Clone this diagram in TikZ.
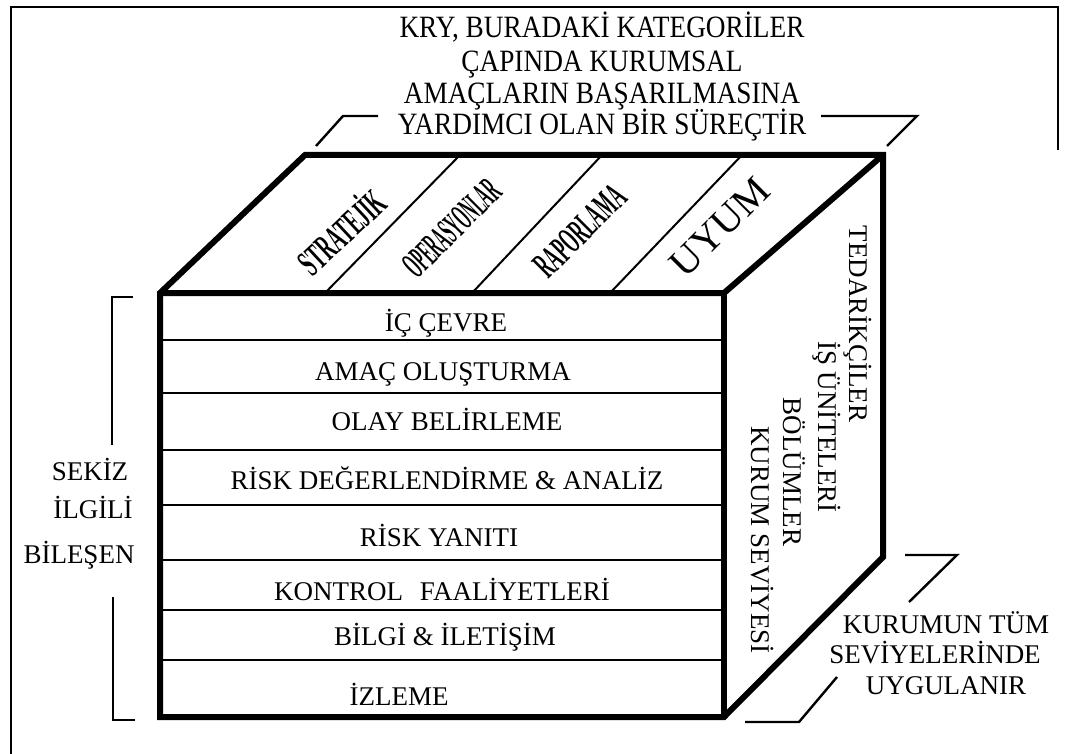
\documentclass[tikz,border=0pt]{standalone}
\usepackage{graphicx}
\usepackage{fontspec}
\setmainfont{Liberation Serif}
\begin{document}
\begin{tikzpicture}[x=1pt,y=-1pt,
  cubeline/.style={line width=6pt,line join=miter},
  divider/.style={line width=2pt},
  rowline/.style={line width=2.2pt},
  bracket/.style={line width=2.4pt},
  frameline/.style={line width=2pt},
  caption/.style={font=\fontsize{27}{30}\selectfont,inner sep=0pt,anchor=base},
  headline/.style={font=\fontsize{31}{34}\selectfont,inner sep=0pt,anchor=base},
  sidetext/.style={font=\fontsize{27}{30}\selectfont,inner sep=0pt,anchor=base,rotate=-90},
  toplabel/.style={inner sep=0pt,rotate=45,font=\bfseries\fontsize{38}{38}\selectfont}]
\useasboundingbox (0,0) rectangle (1067,754);
\fill[white] (0,0) rectangle (1067,754);

% page frame
\draw[frameline] (11,754) -- (11,7) -- (1058,7) -- (1058,150);

% cube corners
\coordinate (FTL) at (160,293);
\coordinate (FTR) at (724,293);
\coordinate (FBL) at (160,717);
\coordinate (FBR) at (724,717);
\coordinate (BTL) at (305,155);
\coordinate (BTR) at (883,155);
\coordinate (BBR) at (883,557);

% rows of the front face
\foreach \yy in {340,393,450,505,560,610,660}
  \draw[rowline] (160,\yy) -- (724,\yy);

% objective columns on the top face
\draw[divider] (460,155) -- (325,293);
\draw[divider] (602,155) -- (472,293);
\draw[divider] (742,155) -- (610,293);

% cube outline
\draw[cubeline] (FTL) -- (BTL) -- (BTR) -- (BBR) -- (FBR) -- (FBL) -- cycle;
\draw[cubeline] (FTL) -- (FTR) -- (BTR);
\draw[cubeline] (FTR) -- (FBR);

% heading with its bracket
\node[headline] (h1) at (602,38) {\scalebox{0.88}[1]{KRY, BURADAKİ KATEGORİLER}};
\node[headline] (h2) at (602,72) {\scalebox{0.88}[1]{ÇAPINDA KURUMSAL}};
\node[headline] (h3) at (602,104) {\scalebox{0.88}[1]{AMAÇLARIN BAŞARILMASINA}};
\node[headline] (h4) at (602,135) {\scalebox{0.88}[1]{YARDIMCI OLAN BİR SÜREÇTİR}};
\draw[bracket] (316,146) -- (343,116) -- (378,116);
\draw[bracket] (821,116) -- (917,116) -- (887,146);

% objectives
\node[toplabel,rotate=-2] (strat) at (340,230) {\scalebox{0.49}[1]{STRATEJİK}};
\node[toplabel] (oper) at (452,228) {\scalebox{0.38}[1]{OPERASYONLAR}};
\node[toplabel] (rapor) at (580,231) {\scalebox{0.45}[1]{RAPORLAMA}};
\node[toplabel,font=\fontsize{40}{40}\selectfont] (uyum) at (720,227) {UYUM};

% components
\node[caption] (c1) at (446,331) {İÇ ÇEVRE};
\node[caption] (c2) at (443,380) {AMAÇ OLUŞTURMA};
\node[caption] (c3) at (447,430) {OLAY BELİRLEME};
\node[caption] (c4) at (447,489) {RİSK DEĞERLENDİRME \& ANALİZ};
\node[caption] (c5) at (439,546) {RİSK YANITI};
\node[caption] (c6) at (442,600) {KONTROL\hspace{17pt}FAALİYETLERİ};
\node[caption] (c7) at (445,645) {BİLGİ \& İLETİŞİM};
\node[caption] (c8) at (399,705) {İZLEME};

% units on the side face
\node[sidetext] (s1) at (849,324) {TEDARİKÇİLER};
\node[sidetext] (s2) at (818,427) {İŞ ÜNİTELERİ};
\node[sidetext] (s3) at (783,472) {BÖLÜMLER};
\node[sidetext] (s4) at (751,540) {KURUM SEVİYESİ};

% left label with its bracket
\node[caption] (l1) at (90,480) {SEKİZ};
\node[caption] (l2) at (93,518) {İLGİLİ};
\node[caption] (l3) at (79,563) {BİLEŞEN};
\draw[bracket] (133,297) -- (112,297) -- (112,445);
\draw[bracket] (113,597) -- (113,720) -- (135,720);

% right label with its bracket
\node[caption] (r1) at (946,633) {KURUMUN TÜM};
\node[caption] (r2) at (935,663) {SEVİYELERİNDE};
\node[caption] (r3) at (946,694) {UYGULANIR};
\draw[bracket] (905,555) -- (957,555) -- (909,602);
\draw[bracket] (837,677) -- (799,722) -- (745,722);
\end{tikzpicture}
\end{document}
